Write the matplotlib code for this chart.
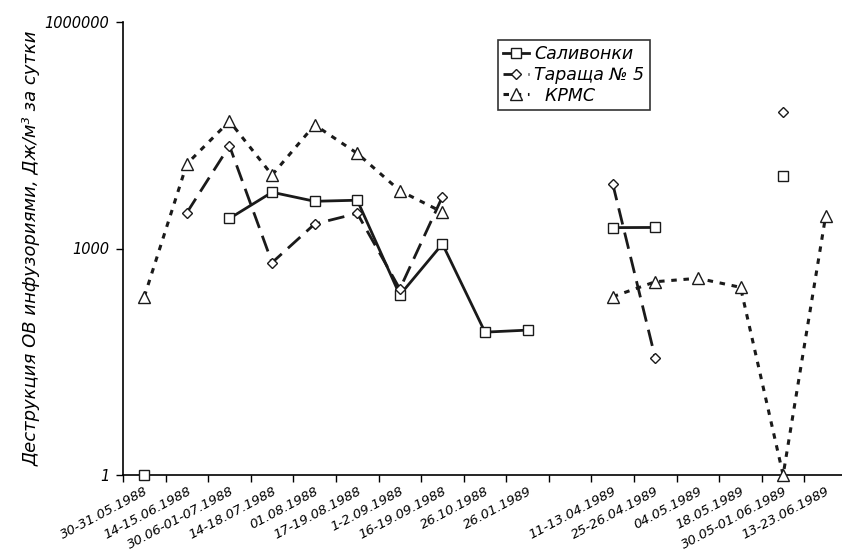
import numpy as np
import matplotlib
matplotlib.use("Agg")
import matplotlib.pyplot as plt
from matplotlib.ticker import FixedLocator

plt.rcParams['font.family'] = ['DejaVu Sans']

categories = ["30-31.05.1988", "14-15.06.1988", "30.06-01-07.1988", "14-18.07.1988",
              "01.08.1988", "17-19.08.1988", "1-2.09.1988", "16-19.09.1988",
              "26.10.1988", "26.01.1989", "", "11-13.04.1989", "25-26.04.1989",
              "04.05.1989", "18.05.1989", "30.05-01.06.1989", "13-23.06.1989"]
nan = np.nan
salivonki = [1, nan, 2500, 5560, 4220, 4360, 242, 1150, 78, 83, nan,
             1890, 1900, nan, nan, 9040, nan]
tarascha = [nan, 2980, 22900, 650, 2110, 2920, 291, 4850, nan, nan, nan,
            7150, 35, nan, nan, 63500, nan]
krms = [230, 13200, 48600, 9400, 43400, 18200, 5830, 3030, nan, nan, nan,
        230, 363, 403, 306, 1, 2720]

fig = plt.figure(figsize=(8.42, 5.57), dpi=100)
ax = fig.add_axes([123/842, (557-475)/557, 724/842, 453/557])
x = np.arange(len(categories))

ax.plot(x, salivonki, color='#1a1a1a', lw=2, ls='-', marker='s', ms=7.5,
        mfc='white', mec='#1a1a1a', mew=1, clip_on=False, zorder=3,
        label='Саливонки')
ax.plot(x, tarascha, color='#1a1a1a', lw=2, ls=(0, (6, 3)), marker='D', ms=5.5,
        mfc='white', mec='#1a1a1a', mew=1, clip_on=False, zorder=3,
        label='Тараща № 5')
ax.plot(x, krms, color='#1a1a1a', lw=2.2, ls=(0, (1.8, 2.2)), marker='^', ms=8,
        mfc='white', mec='#1a1a1a', mew=1, clip_on=False, zorder=3,
        label='  КРМС')

ax.set_yscale('log')
ax.set_ylim(1, 1e6)
ax.set_xlim(-0.5, len(categories) - 0.5)
ax.yaxis.set_major_locator(FixedLocator([1, 1000, 1000000]))
ax.yaxis.set_minor_locator(FixedLocator([]))
ax.set_yticklabels(['1', '1000', '1000000'], fontstyle='italic', fontsize=10.5)
ax.tick_params(axis='y', length=5, width=1, direction='out', pad=5)

ax.set_xticks(x)
ax.set_xticklabels(categories, rotation=28, ha='right', rotation_mode='anchor',
                   fontstyle='italic', fontsize=9.5)
ax.tick_params(axis='x', which='major', length=0, pad=7)
ax.set_xticks(np.arange(-0.5, len(categories) + 0.5, 1), minor=True)
ax.tick_params(axis='x', which='minor', length=5, width=1, direction='out')

for s in ['top', 'right']:
    ax.spines[s].set_visible(False)
for s in ['left', 'bottom']:
    ax.spines[s].set_linewidth(1.2)

ax.set_ylabel('Деструкция ОВ инфузориями, Дж/м³ за сутки', fontstyle='italic',
              fontsize=13, labelpad=3)

leg = ax.legend(loc='upper left', bbox_to_anchor=(0.518, 0.96), frameon=True,
                fancybox=False, edgecolor='#333333', framealpha=1,
                borderaxespad=0, handlelength=1.5,
                prop={'style': 'italic', 'size': 12.5},
                borderpad=0.3, labelspacing=0.15, handletextpad=0.3)
leg.get_frame().set_linewidth(1.2)

fig.savefig('out.png', dpi=100)
